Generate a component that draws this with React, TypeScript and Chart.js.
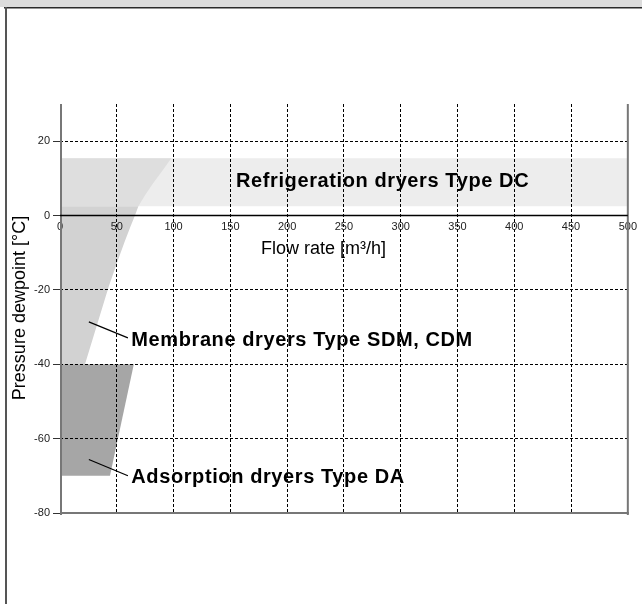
import React, { useEffect, useRef } from 'react';
import { Chart, registerables } from 'chart.js';

Chart.register(...registerables);

// ---- data ----
const xTickValues = [0, 50, 100, 150, 200, 250, 300, 350, 400, 450, 500];
const yTickValues = [-80, -60, -40, -20, 0, 20];

const refrigerationX = [0, 500, 500, 0];
const refrigerationY = [15.4, 15.4, 2.5, 2.5];

const membraneUpperX = [0, 98, 90, 82, 75, 69, 0];
const membraneUpperY = [15.4, 15.4, 12, 8.7, 5.5, 2.5, 2.5];

const membraneLowerX = [0, 69, 66, 62, 57, 51, 43, 36, 29, 22, 0];
const membraneLowerY = [2.5, 2.5, 0, -3, -7, -12, -19, -26, -33, -40, -40];

const adsorptionX = [0, 65, 44, 0];
const adsorptionY = [-40, -40, -70, -70];

const leaderMembraneX = [25.4, 59.8];
const leaderMembraneY = [-28.6, -32.9];
const leaderAdsorptionX = [25.4, 59.8];
const leaderAdsorptionY = [-65.6, -70.0];

const labelTexts = ['Refrigeration dryers Type DC', 'Membrane dryers Type SDM, CDM', 'Adsorption dryers Type DA'];
const labelX = [155, 62.8, 62.8];
const labelY = [7.75, -35.1, -72.0];

const xTitle = 'Flow rate [m³/h]';
const yTitle = 'Pressure dewpoint [°C]';

const FONT = '"Liberation Sans", Arial, Helvetica, sans-serif';

const pts = (xs: number[], ys: number[]) => xs.map((x, i) => ({ x, y: ys[i] }));

const area = (xs: number[], ys: number[], color: string) => ({
  data: pts(xs, ys),
  showLine: true,
  fill: 'shape',
  backgroundColor: color,
  borderColor: color,
  borderWidth: 0,
  pointRadius: 0,
  tension: 0,
});

const leader = (xs: number[], ys: number[]) => ({
  data: pts(xs, ys),
  showLine: true,
  fill: false,
  borderColor: '#000',
  borderWidth: 1.2,
  pointRadius: 0,
  tension: 0,
});

const decorPlugin = {
  id: 'decor',
  beforeDraw(chart: any) {
    const ctx = chart.ctx;
    ctx.save();
    ctx.fillStyle = '#fff';
    ctx.fillRect(0, 0, chart.width, chart.height);
    ctx.fillStyle = '#dcdcdc';
    ctx.fillRect(0, 0, chart.width, 7);
    ctx.fillStyle = '#2a2a2a';
    ctx.fillRect(4, 7, chart.width - 4, 1.5);
    ctx.fillStyle = '#555';
    ctx.fillRect(5, 7, 2, chart.height - 7);
    ctx.restore();
  },
  afterDraw(chart: any) {
    const ctx = chart.ctx;
    const { left, right, top, bottom } = chart.chartArea;
    const xs = chart.scales.x;
    const ys = chart.scales.y;
    ctx.save();
    // frame
    ctx.fillStyle = '#777';
    ctx.fillRect(left, top, 2, bottom - top + 2);
    ctx.fillRect(right - 1, top, 2, bottom - top + 2);
    ctx.fillRect(left, bottom - 1, right - left + 1, 2);
    // x axis line at y = 0
    const y0 = ys.getPixelForValue(0);
    ctx.strokeStyle = '#000';
    ctx.lineWidth = 1.5;
    ctx.beginPath();
    ctx.moveTo(left, y0);
    ctx.lineTo(right, y0);
    ctx.stroke();

    // labels
    ctx.fillStyle = '#000';
    ctx.font = `bold 20px ${FONT}`;
    try { (ctx as any).letterSpacing = '0.6px'; } catch (e) {}
    ctx.textAlign = 'left';
    ctx.textBaseline = 'alphabetic';
    labelTexts.forEach((t, i) => {
      ctx.fillText(t, xs.getPixelForValue(labelX[i]), ys.getPixelForValue(labelY[i]));
    });
    try { (ctx as any).letterSpacing = '0px'; } catch (e) {}

    // axis titles
    ctx.font = `18px ${FONT}`;
    ctx.textAlign = 'center';
    ctx.fillText(xTitle, xs.getPixelForValue(232), y0 + 38);
    ctx.translate(25, 308);
    ctx.rotate(-Math.PI / 2);
    ctx.fillText(yTitle, 0, 0);
    ctx.restore();
  },
};

export default function App() {
  const ref = useRef<HTMLCanvasElement | null>(null);
  useEffect(() => {
    if (!ref.current) return;
    const chart = new Chart(ref.current, {
      type: 'scatter',
      data: {
        datasets: [
          leader(leaderMembraneX, leaderMembraneY),
          leader(leaderAdsorptionX, leaderAdsorptionY),
          area(adsorptionX, adsorptionY, '#a6a6a6'),
          area(membraneLowerX, membraneLowerY, '#d2d2d2'),
          area(membraneUpperX, membraneUpperY, '#dedede'),
          area(refrigerationX, refrigerationY, '#ededed'),
        ] as any,
      },
      plugins: [decorPlugin],
      options: {
        animation: false,
        responsive: false,
        devicePixelRatio: 1,
        events: [],
        layout: { padding: { left: 0, right: 11, top: 104, bottom: 91 } },
        plugins: { legend: { display: false }, tooltip: { enabled: false }, title: { display: false } },
        scales: {
          x: {
            type: 'linear',
            min: 0,
            max: 500,
            position: { y: 0 } as any,
            afterBuildTicks: (s: any) => { s.ticks = xTickValues.map((v) => ({ value: v })); },
            ticks: { z: 2, color: '#222', font: { size: 11, family: FONT }, padding: 5, maxRotation: 0 },
            grid: { z: 1, color: '#000', lineWidth: 1, drawTicks: false },
            border: { display: false, dash: [3, 2] },
          },
          y: {
            type: 'linear',
            min: -80,
            max: 30,
            position: 'left',
            afterFit: (s: any) => { s.width = 60; },
            afterBuildTicks: (s: any) => { s.ticks = yTickValues.map((v) => ({ value: v })); },
            ticks: { z: 2, color: '#222', font: { size: 11, family: FONT }, padding: 3 },
            grid: { z: 1, color: '#000', lineWidth: 1, drawTicks: true, tickLength: 7, tickColor: '#333', tickBorderDash: [] },
            border: { display: false, dash: [3, 2] },
          },
        },
      } as any,
    });
    return () => chart.destroy();
  }, []);
  return (
    <div style={{ position: 'fixed', left: 0, top: 0, width: 642, height: 604 }}>
      <canvas ref={ref} width={642} height={604} style={{ width: 642, height: 604, display: 'block' }} />
    </div>
  );
}
